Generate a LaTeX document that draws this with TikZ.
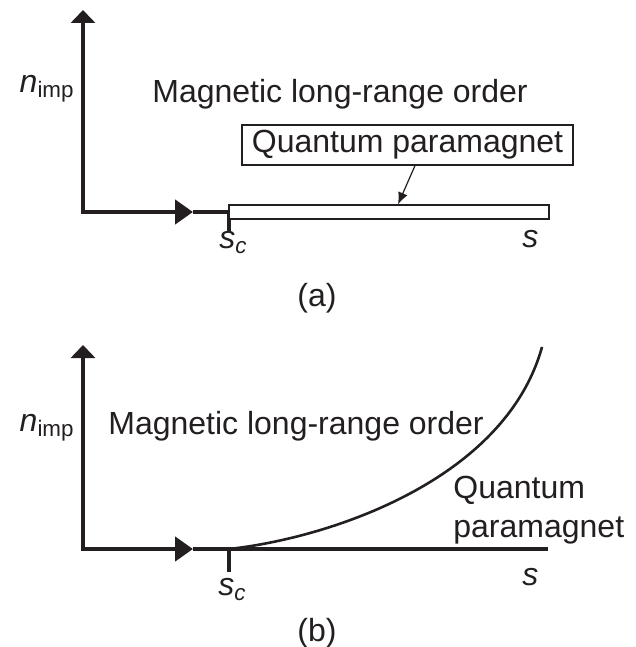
\documentclass[tikz,border=0pt]{standalone}
\usepackage{fontspec}
\setmainfont{Liberation Sans}
\usetikzlibrary{
  arrows.meta,
  positioning,
  calc
}
\definecolor{InkBlack}{RGB}{35,31,32}
\tikzset{
  axisline/.style={line width=2.3pt,draw=InkBlack},
  tickline/.style={line width=2.3pt,draw=InkBlack},
  phaseline/.style={line width=1.3pt,draw=InkBlack},
  plainlabel/.style={inner sep=0pt,text=InkBlack,font=\fontsize{16}{19.5}\selectfont},
  phasebar/.style={draw=InkBlack,line width=0.6pt,fill=white,minimum width=160pt,minimum height=7pt,inner sep=0pt},
  phasebox/.style={draw=InkBlack,line width=0.6pt,fill=white,minimum width=165.5pt,minimum height=20pt,inner sep=0pt,text=InkBlack,font=\fontsize{16}{19.5}\selectfont},
  pointer/.style={-{Latex[length=6pt,width=5pt]},line width=0.6pt,draw=InkBlack},
  axistips/.style={{Triangle[length=6.5pt,width=12pt]}-{Triangle[length=9pt,width=12pt]}}
}
\newcommand{\nimp}{\textit{n}\textsubscript{imp}}
\newcommand{\scrit}{\textit{s}\textsubscript{\textit{c}}}

\begin{document}
\begin{tikzpicture}[x=0.5pt,y=-0.5pt]
\useasboundingbox (0,0) rectangle (636,647);
% (a)
\coordinate (oa) at (83,212);
\coordinate (ya) at (83,10);
\coordinate (ma) at (193,212);
\coordinate (sca) at (229,212);
\coordinate (ta) at (229,232);
\draw[axisline,axistips] (ya) -- (oa) -- (ma);
\draw[axisline] (ma) -- (sca);
\draw[tickline] (sca) -- (ta);
\node[phasebar] (bara) at (389,212) {};
\node[phasebox] (qpa) at (407.5,145) {Quantum paramagnet};
\draw[pointer] ([xshift=3.75pt]qpa.south) -- ([xshift=4.5pt]bara.north);
\node[plainlabel,anchor=base east] (na) at (75,92) {\nimp};
\node[plainlabel,anchor=base west] (mlroa) at (152,103) {Magnetic long-range order};
\node[plainlabel,anchor=base west] (scla) at (219,248) {\scrit};
\node[plainlabel,anchor=base west] (sa) at (522,247) {\textit{s}};
\node[plainlabel,anchor=base] (capa) at (317,306) {(a)};
% (b)
\coordinate (ob) at (83,549);
\coordinate (yb) at (83,345);
\coordinate (mb) at (193,549);
\coordinate (scb) at (229,549);
\coordinate (eb) at (548,549);
\coordinate (tb) at (229,572);
\coordinate (cb) at (542,347);
\draw[axisline,axistips] (yb) -- (ob) -- (mb);
\draw[axisline] (mb) -- (eb);
\draw[tickline] (scb) -- (tb);
\draw[phaseline] (scb) .. controls (330,538) and (505,480) .. (cb);
\node[plainlabel,anchor=base east] (nb) at (75,431) {\nimp};
\node[plainlabel,anchor=base west] (mlrob) at (108,434) {Magnetic long-range order};
\node[plainlabel,anchor=base west,align=left] (qpb) at (453,537) {Quantum\\paramagnet};
\node[plainlabel,anchor=base west] (sclb) at (218,595) {\scrit};
\node[plainlabel,anchor=base west] (sb) at (522,585) {\textit{s}};
\node[plainlabel,anchor=base] (capb) at (317,641) {(b)};
\end{tikzpicture}
\end{document}
